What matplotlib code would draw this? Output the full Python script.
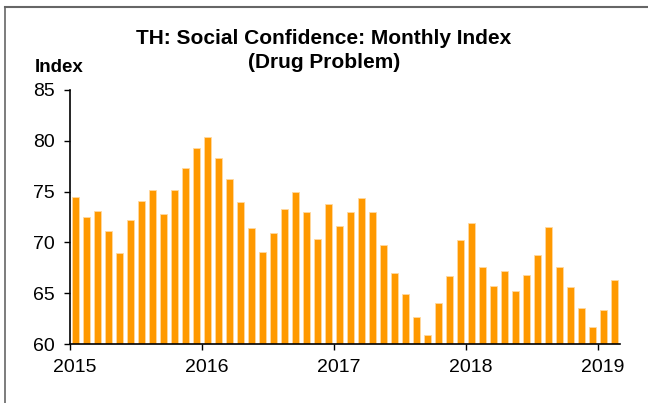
import numpy as np
import matplotlib.pyplot as plt
import matplotlib.transforms as mtransforms
from matplotlib.lines import Line2D

plt.rcParams['font.family'] = ['Liberation Sans', 'DejaVu Sans']

# Monthly index, Jan 2015 - Feb 2019
valores = [74.5, 72.5, 73.1, 71.1, 69.0, 72.2, 74.1, 75.2, 72.8, 75.2, 77.3, 79.3,
           80.4, 78.3, 76.2, 74.0, 71.4, 69.1, 70.9, 73.3, 75.0, 73.0, 70.3, 73.8,
           71.6, 73.0, 74.4, 73.0, 69.7, 67.0, 64.9, 62.7, 60.9, 64.0, 66.7, 70.2,
           71.9, 67.6, 65.7, 67.2, 65.2, 66.8, 68.8, 71.5, 67.6, 65.6, 63.6, 61.7,
           63.4, 66.3]
anios = ['2015', '2016', '2017', '2018', '2019']

meses = np.arange(len(valores)) + 0.5

fig = plt.figure(figsize=(6.48, 4.03), dpi=100)
ax = fig.add_axes([0.108, 0.146, 0.849, 0.631])

ax.bar(meses, valores, width=0.62, color='#ff9900', edgecolor='#ffd9a0', linewidth=0.6)

ax.set_ylim(60, 85)
ax.set_xlim(0, 50)
ax.set_yticks(np.arange(60, 86, 5))
ax.set_xticks(np.arange(len(anios)) * 12)
ax.set_xticklabels(anios)
ax.tick_params(axis='both', labelsize=14, direction='out', length=4, width=1)
ax.tick_params(axis='y', pad=7)
ax.tick_params(axis='x', pad=7)

# etiquetas de años un poco a la derecha, como en el original
desplaza = mtransforms.ScaledTranslation(5 / 100, 0, fig.dpi_scale_trans)
for etiqueta in ax.get_xticklabels():
    etiqueta.set_transform(etiqueta.get_transform() + desplaza)

for lado in ['top', 'right']:
    ax.spines[lado].set_visible(False)
for lado in ['left', 'bottom']:
    ax.spines[lado].set_linewidth(1.2)

fig.text(0.5, 0.905, 'TH: Social Confidence: Monthly Index', ha='center', va='center',
         fontsize=15, fontweight='bold')
fig.text(0.5, 0.845, '(Drug Problem)', ha='center', va='center',
         fontsize=15, fontweight='bold')
fig.text(0.054, 0.832, 'Index', ha='left', va='center', fontsize=13.5, fontweight='bold')

# marco (solo arriba e izquierda)
fig.lines.append(Line2D([0.008, 1.0], [0.983, 0.983], transform=fig.transFigure,
                        color='#666666', linewidth=1.5))
fig.lines.append(Line2D([0.008, 0.008], [0.0, 0.983], transform=fig.transFigure,
                        color='#666666', linewidth=1.2))

fig.savefig('out.png', dpi=100)
